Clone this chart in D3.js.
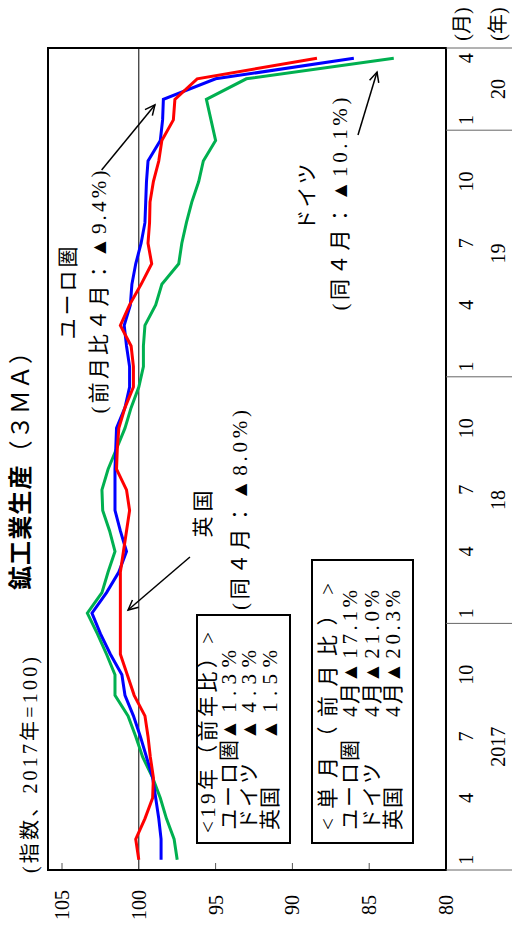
<!DOCTYPE html>
<html><head><meta charset="utf-8">
<script src="https://cdn.jsdelivr.net/npm/d3@7"></script>
<style>body{margin:0;background:#fff;} svg{display:block;}</style>
</head><body><svg id="c" width="512" height="938"></svg>
<script>
// ---- data (Jan 2017 .. Apr 2020, 3-month moving average, 2017=100) ----
const monthNums = [1,2,3,4,5,6,7,8,9,10,11,12, 1,2,3,4,5,6,7,8,9,10,11,12, 1,2,3,4,5,6,7,8,9,10,11,12, 1,2,3,4];
const yearLabels = ["2017","18","19","20"];
const yearMonthCounts = [12,12,12,4];
const euro = [98.55,98.55,98.7,98.9,99.1,99.5,99.9,100.35,100.9,101.1,101.85,102.5,
              103.05,102.1,101.3,100.8,101.2,101.55,101.55,101.55,101.5,101.45,100.9,100.6,
              100.6,100.8,100.95,100.55,100.45,100.2,99.85,99.6,99.55,99.5,99.4,98.6,
              98.45,98.4,95.0,86.0];
const germany = [97.5,97.7,98.2,98.6,99.1,99.75,100.2,100.7,101.55,101.55,102.1,102.7,
                 103.35,102.4,102.0,101.55,101.9,102.35,102.4,102.0,101.45,100.9,100.5,100.0,
                 99.7,99.7,99.6,98.9,98.5,97.4,97.2,96.9,96.55,96.1,95.8,95.0,
                 95.3,95.6,93.0,83.4];
const uk = [100.0,100.2,99.6,99.1,99.05,99.25,99.4,99.6,100.3,100.75,101.2,101.2,
            101.2,101.2,101.2,101.0,100.8,100.6,100.8,101.45,101.4,101.3,100.9,100.35,
            100.35,100.5,101.2,100.6,99.85,99.16,99.4,99.3,99.27,99.05,98.7,98.5,
            97.75,97.65,96.2,88.4];
const valueTicks = [80,85,90,95,100,105];
const seriesNames = ["ユーロ圏","ドイツ","英国"];
const yearOnYear = ["▲1.3%","▲4.3%","▲1.5%"];
const monthOnMonth = ["▲17.1%","▲21.0%","▲20.3%"];

// ---- layout (chart drawn landscape, then rotated) ----
const L=68, R=890, T=48, B=446, FULLW=938, FULLH=512;
const svg=d3.select("#c");
const g=svg.append("g").attr("transform","translate(0,938) rotate(-90)");
const serif='"Liberation Serif","Noto Sans CJK JP",serif';
const FS=21;
const x=d3.scaleBand().domain(d3.range(monthNums.length)).range([L,R]).paddingInner(0).paddingOuter(0);
const xc=i=>x(i)+x.bandwidth()/2;
const xi=v=>L+(v+0.5)*x.step();
const y=d3.scaleLinear().domain([80,105]).range([B,62]);

// title
const title=g.append("text").attr("x",348).attr("y",29)
  .attr("font-family",'"Noto Sans CJK JP",sans-serif').attr("font-size",24).attr("fill","#000")
  .attr("textLength",250).attr("lengthAdjust","spacing");
title.append("tspan").attr("font-weight","bold").text("鉱工業生産");
title.append("tspan").attr("font-weight","normal").text("（３ＭＡ）");

// unit label
g.append("text").attr("x",65).attr("y",37).attr("font-family",serif).attr("font-size",20)
  .attr("textLength",216).attr("lengthAdjust","spacing").text("(指数、2017年=100)");

// 100 reference line
g.append("line").attr("x1",L).attr("x2",R).attr("y1",y(100)).attr("y2",y(100))
  .attr("stroke","#000").attr("stroke-width",1);

// ticks
g.selectAll(".tk").data(valueTicks.filter(v=>v!==80&&v!==100)).enter().append("line")
  .attr("x1",L).attr("x2",L+7).attr("y1",d=>y(d)).attr("y2",d=>y(d)).attr("stroke","#555").attr("stroke-width",1);
g.selectAll(".tl").data(valueTicks).enter().append("text")
  .attr("x",33).attr("y",d=>y(d)+7).attr("text-anchor","middle")
  .attr("font-family",serif).attr("font-size",20).text(d=>d);

// lines
const line=d3.line().x((d,i)=>xc(i)).y(d=>y(d));
[[germany,"#00B050"],[euro,"#0000FF"],[uk,"#FF0000"]].forEach(([s,c])=>{
  g.append("path").datum(s).attr("d",line).attr("fill","none").attr("stroke",c)
   .attr("stroke-width",3).attr("stroke-linejoin","miter");
});

// frame
g.append("rect").attr("x",L).attr("y",T).attr("width",R-L).attr("height",B-T)
  .attr("fill","none").attr("stroke","#000").attr("stroke-width",2);

// x-axis panel
const seps=[0]; let acc=0; yearMonthCounts.forEach(c=>{acc+=c; seps.push(acc);});
g.selectAll(".sep").data(seps).enter().append("line")
  .attr("x1",d=>x.step()*d+L).attr("x2",d=>x.step()*d+L).attr("y1",B).attr("y2",FULLH)
  .attr("stroke","#666").attr("stroke-width",1);
g.selectAll(".ml").data(monthNums.map((m,i)=>({m,i})).filter(d=>[1,4,7,10].includes(d.m))).enter()
  .append("text").attr("x",d=>xc(d.i)).attr("y",473).attr("text-anchor","middle")
  .attr("font-family",serif).attr("font-size",20).text(d=>d.m);
g.selectAll(".yl").data(yearLabels).enter().append("text")
  .attr("x",(d,k)=>L+x.step()*(seps[k]+seps[k+1])/2).attr("y",505).attr("text-anchor","middle")
  .attr("font-family",serif).attr("font-size",20).text(d=>d);
g.append("text").attr("x",914).attr("y",469).attr("text-anchor","middle").attr("font-family",serif).attr("font-size",20).text("(月)");
g.append("text").attr("x",914).attr("y",505).attr("text-anchor","middle").attr("font-family",serif).attr("font-size",20).text("(年)");

// annotations
function label(cx,cy,txt,len){
  g.append("text").attr("x",cx-len/2).attr("y",cy+7).attr("font-family",serif).attr("font-size",FS)
   .attr("textLength",len).attr("lengthAdjust","spacing").text(txt);
}
label(645,68,"ユーロ圏",93);
label(646,99,"(前月比４月：▲9.4%)",243);
label(741,307,"ドイツ",67);
label(734,340,"(同４月：▲10.1%)",213);
label(424,203,"英国",47);
label(428,240,"(同４月：▲8.0%)",200);

function arrow(m0,v0,m1,v1){
  const x0=xi(m0),y0=y(v0),x1=xi(m1),y1=y(v1);
  g.append("line").attr("x1",x0).attr("y1",y0).attr("x2",x1).attr("y2",y1).attr("stroke","#000").attr("stroke-width",1.5);
  const a=Math.atan2(y1-y0,x1-x0), h=11, s=0.45;
  const p=[[x1-h*Math.cos(a-s),y1-h*Math.sin(a-s)],[x1,y1],[x1-h*Math.cos(a+s),y1-h*Math.sin(a+s)]];
  g.append("polyline").attr("points",p.map(q=>q.join(",")).join(" ")).attr("fill","none").attr("stroke","#000").attr("stroke-width",1.5);
}
arrow(33.56,102.42,36.73,98.95);
arrow(35.27,85.73,38.33,84.49);
arrow(14.73,96.67,12.15,100.7);

// legend boxes
g.append("rect").attr("x",95).attr("y",197).attr("width",228).attr("height",93).attr("fill","#fff").attr("stroke","#000").attr("stroke-width",2);
g.append("text").attr("x",105).attr("y",215).attr("font-family",serif).attr("font-size",FS)
  .attr("textLength",201).attr("lengthAdjust","spacing").text("<19年（前年比）>");
const nameLens=[90,67,43];
[229,249,270].forEach((cy,k)=>{
  g.append("text").attr("x",108).attr("y",cy+7).attr("font-family",serif).attr("font-size",FS)
   .attr("textLength",nameLens[k]).attr("lengthAdjust","spacing").text(seriesNames[k]);
  g.append("text").attr("x",198).attr("y",cy+7).attr("font-family",serif).attr("font-size",FS)
   .attr("textLength",90).attr("lengthAdjust","spacing").text(yearOnYear[k]);
});
g.append("rect").attr("x",95).attr("y",312).attr("width",283).attr("height",101).attr("fill","#fff").attr("stroke","#000").attr("stroke-width",2);
g.append("text").attr("x",108).attr("y",335).attr("font-family",serif).attr("font-size",FS)
  .attr("textLength",247).attr("lengthAdjust","spacing").text("<単月（前月比）>");
[350,372,393].forEach((cy,k)=>{
  g.append("text").attr("x",108).attr("y",cy+7).attr("font-family",serif).attr("font-size",FS)
   .attr("textLength",nameLens[k]).attr("lengthAdjust","spacing").text(seriesNames[k]);
  g.append("text").attr("x",221).attr("y",cy+7).attr("font-family",serif).attr("font-size",FS)
   .attr("textLength",34).attr("lengthAdjust","spacing").text("4月");
  g.append("text").attr("x",255).attr("y",cy+7).attr("font-family",serif).attr("font-size",FS)
   .attr("textLength",93).attr("lengthAdjust","spacing").text(monthOnMonth[k]);
});
</script></body></html>
